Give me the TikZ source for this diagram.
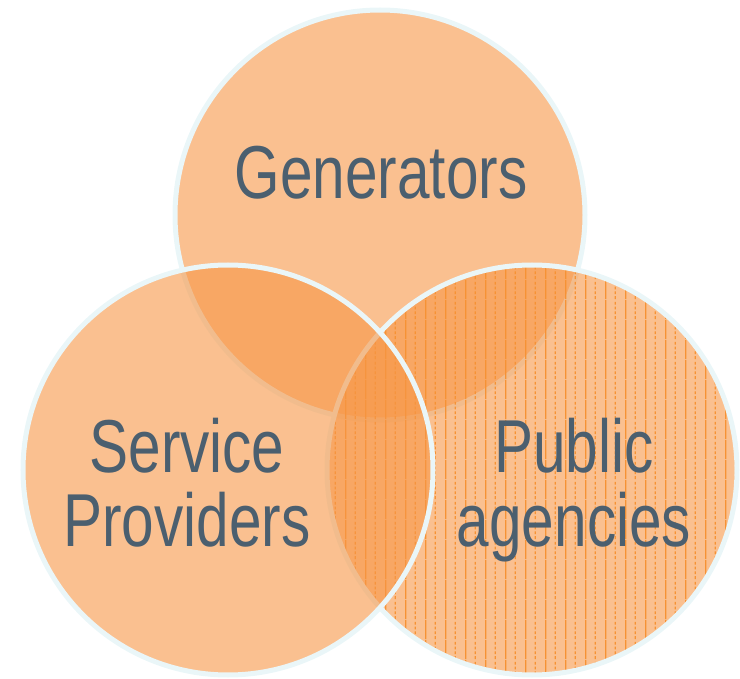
\documentclass[tikz,border=0pt]{standalone}
\usepackage{fontspec}
\setmainfont{Liberation Sans}[FakeStretch=0.78]
\usetikzlibrary{patterns.meta}
\definecolor{cfill}{RGB}{247,150,70}
\definecolor{cstroke}{RGB}{234,246,248}
\definecolor{ctext}{RGB}{75,95,111}
\definecolor{cstripe}{RGB}{246,146,52}
\pgfdeclarepattern{
  name=vstripes,
  type=uncolored,
  bottom left={\pgfpoint{0pt}{0pt}},
  top right={\pgfpoint{20pt}{20pt}},
  tile size={\pgfpoint{20pt}{20pt}},
  code={
    \pgfsetlinewidth{1.2pt}
    \pgfpathmoveto{\pgfpoint{6pt}{0pt}}
    \pgfpathlineto{\pgfpoint{6pt}{20pt}}
    \pgfusepath{stroke}
    \pgfsetdash{{3pt}{2pt}}{0pt}
    \pgfpathmoveto{\pgfpoint{16pt}{0pt}}
    \pgfpathlineto{\pgfpoint{16pt}{20pt}}
    \pgfusepath{stroke}
  }
}
\tikzset{
  circfill/.style={fill=cfill, fill opacity=0.6},
  circline/.style={draw=cstroke, line width=5pt},
  stripes/.style={pattern=vstripes, pattern color=cstripe, fill opacity=1},
  label/.style={font=\fontsize{75}{74}\selectfont, text=ctext, inner sep=0pt, anchor=base}
}
\begin{document}
\begin{tikzpicture}[x=1pt,y=-1pt]
\useasboundingbox (0,0) rectangle (740,679);
\coordinate (cg) at (380,215);
\coordinate (cs) at (228,470);
\coordinate (cp) at (532,470);
% top circle
\fill[circfill] (cg) circle[radius=205pt];
\draw[circline] (cg) circle[radius=205pt];
% right circle
\fill[circfill] (cp) circle[radius=205pt];
\fill[stripes] (cp) circle[radius=203pt];
\draw[circline] (cp) circle[radius=205pt];
% left circle
\fill[circfill] (cs) circle[radius=205pt];
\draw[circline] (cs) circle[radius=205pt];
% labels
\node[label] (gen) at (381,199) {Generators};
\node[label] (ser) at (187,472) {Service};
\node[label] (pro) at (187,546) {Providers};
\node[label] (pub) at (574,472) {Public};
\node[label] (age) at (574,546) {agencies};
\end{tikzpicture}
\end{document}
